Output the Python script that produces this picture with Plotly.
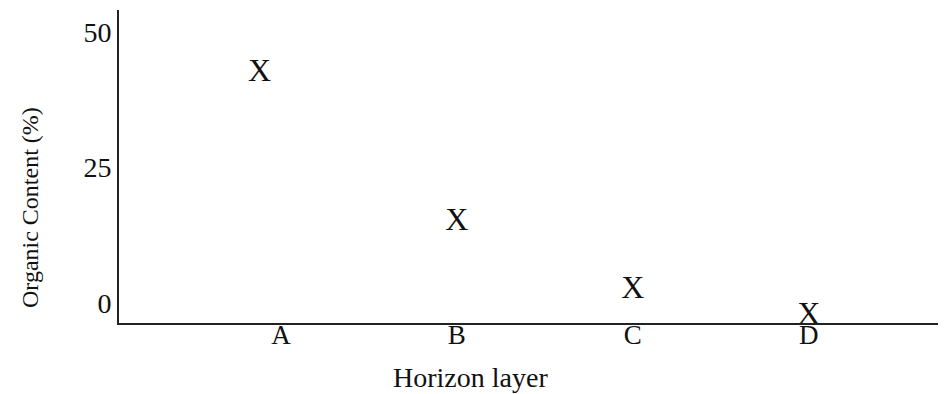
import plotly.graph_objects as go

horizons = ["A", "B", "C", "D"]
organic_pct = [42.4, 15.0, 2.4, -2.4]
y_ticks = [0, 25, 50]
y_ticktext = ["0", "25", "50"]

serif = "Liberation Serif, Times New Roman, serif"

# page body has an 8px margin; figure sized to fill the rest of the window
OFF = 8
FIG_W, FIG_H = 946 - OFF, 394 - OFF
ML, MT, MB, MR = 119 - OFF, 10 - OFF, 394 - 323, 0
PW, PH = FIG_W - ML - MR, FIG_H - MT - MB


def paper(px, py):
    """Screen pixel -> paper coordinates."""
    return (px - OFF - ML) / PW, (FIG_H - MB - (py - OFF)) / PH


fig = go.Figure()
fig.add_trace(go.Scatter(
    x=horizons,
    y=organic_pct,
    mode="markers+text",
    text=["X"] * len(horizons),
    textposition=["middle left", "middle center", "middle center", "middle center"],
    marker=dict(size=14, opacity=0),
    textfont=dict(family=serif, size=32, color="#111111"),
    showlegend=False,
    hoverinfo="skip",
))

tx, ty = paper(470, 377)
yx, yy = paper(30, 208)

fig.update_layout(
    width=FIG_W, height=FIG_H,
    margin=dict(l=ML, r=MR, t=MT, b=MB),
    paper_bgcolor="white", plot_bgcolor="white",
    xaxis=dict(
        type="category",
        range=[-0.92, 3.78],
        showline=True, linecolor="#222222", linewidth=2,
        showgrid=False, zeroline=False, ticks="",
        tickfont=dict(family=serif, size=27, color="#111111"),
        ticklabelstandoff=-13,
    ),
    yaxis=dict(
        range=[-3.7, 54.1],
        tickvals=y_ticks, ticktext=y_ticktext,
        showline=True, linecolor="#222222", linewidth=2,
        showgrid=False, zeroline=False, ticks="",
        tickfont=dict(family=serif, size=28, color="#111111"),
    ),
    annotations=[
        dict(text="Horizon layer", x=tx, y=ty, xref="paper", yref="paper",
             xanchor="center", yanchor="middle", showarrow=False,
             font=dict(family=serif, size=28, color="#111111")),
        dict(text="Organic Content (%)", textangle=-90, x=yx, y=yy,
             xref="paper", yref="paper", xanchor="center", yanchor="middle",
             showarrow=False,
             font=dict(family=serif, size=24, color="#111111")),
    ],
)

fig.write_html("out.html")
